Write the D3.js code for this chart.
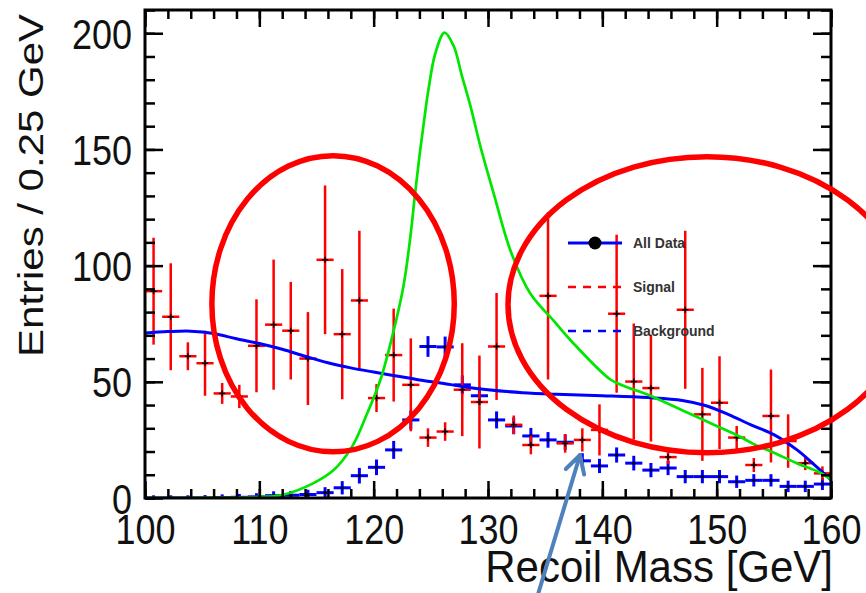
<!DOCTYPE html>
<html>
<head>
<meta charset="utf-8">
<script src="https://cdn.jsdelivr.net/npm/d3@7"></script>
<style>
  body { margin: 0; background: #fff; }
  svg { display: block; font-family: "Liberation Sans", Arial, Helvetica, sans-serif; }
</style>
</head>
<body>
<svg id="chart" width="866" height="593"></svg>
<script>
// bin centres, 1.5 GeV wide bins
const binCenters = [100.75, 102.25, 103.75, 105.25, 106.75, 108.25, 109.75, 111.25, 112.75, 114.25,
  115.75, 117.25, 118.75, 120.25, 121.75, 123.25, 124.75, 126.25, 127.75, 129.25,
  130.75, 132.25, 133.75, 135.25, 136.75, 138.25, 139.75, 141.25, 142.75, 144.25,
  145.75, 147.25, 148.75, 150.25, 151.75, 153.25, 154.75, 156.25, 157.75, 159.25];

// red points (with big error bars)
const dataCounts = [89, 78, 61, 58, 45, 43.7, 65.5, 74.6, 72, 60,
  102.5, 70.5, 85, 43, 61.5, 48.7, 26, 28.6, 46.6, 41.3,
  65.2, 31.5, 22.8, 87, 23.5, 25, 29.3, 79.3, 50.1, 47.3,
  17.6, 81, 36, 41, 26, 14.2, 35.3, 24.5, 15, 10.6];
const dataErrors = [23, 23, 6, 14, 4.5, 5, 20, 28, 21, 20,
  32, 28, 30, 6, 20, 20, 4, 4, 20, 20,
  23, 4, 4, 36, 4, 5, 11, 34, 25, 23,
  3, 34, 20, 20, 5, 3, 20, 11.5, 3, 3];

// blue points
const bkgCounts = [0, 0, 0, 0, 0.2, 0.3, 0.5, 1, 1.2, 1.5,
  2.3, 4.4, 9.6, 13.2, 20.7, 33.6, 65.2, 65, 48.7, 44,
  33.6, 31, 26.7, 25, 24, 16, 13.8, 18.5, 15, 12,
  12.9, 9.2, 9.2, 9.2, 7, 7.6, 7.6, 5, 5, 6];
const bkgErrors = [0.3, 0.3, 0.3, 0.4, 0.5, 0.6, 0.7, 1, 1, 1.2,
  1.5, 2, 2.5, 2.5, 3, 3.2, 3.6, 3.6, 3.2, 3,
  2.8, 2.7, 2.6, 2.5, 2.5, 2.4, 2.2, 2.4, 2.3, 2.2,
  2.2, 2, 2, 2, 1.8, 1.8, 1.8, 1.6, 1.6, 1.7];

// green signal curve
const signalMass = [100, 104, 108, 110, 112, 114.7, 116.5, 118.1, 119.4, 120.6,
  121.6, 122.6, 123.2, 123.6, 124.0, 124.4, 124.8, 125.4, 126.2,
  127.0, 127.7, 128.5, 129.3, 130.5, 132.0, 133.7, 135.7, 137.2, 140.7,
  142.0, 144.0, 146.0, 148.0, 150.0, 152.0, 153.2, 155.0, 157.0, 159.0, 160];
const signalCurve = [0, 0, 0.2, 0.5, 1.3, 6.3, 12, 22, 36, 51,
  69, 91, 112, 130, 147, 162, 176, 191.5, 200.3,
  194.5, 182, 168, 152, 131, 106, 88, 76.5, 68, 51,
  48, 44.4, 40, 35.5, 31, 26.5, 23.3, 19.5, 15, 11, 8];

// blue fit curve
const fitMass = [100, 102, 104, 106, 108, 110, 112, 114, 116, 118,
  120, 122, 124, 126, 128, 130, 133, 136, 140, 144,
  147, 149, 151, 153, 155, 157, 158.5, 160];
const fitCurve = [71, 71.6, 71.8, 70.8, 68.5, 66.5, 64, 61, 58.2, 56,
  54.2, 52.5, 50.8, 49.4, 47.8, 46.6, 45.3, 44.6, 44, 43.2,
  42, 39.8, 36, 31.5, 27.3, 20.8, 14.5, 7.8];

const xTickValues = [100, 110, 120, 130, 140, 150, 160];
const yTickValues = [0, 50, 100, 150, 200];
const legendLabels = ["All Data", "Signal", "Background"];
const xTitle = "Recoil Mass [GeV]";
const yTitle = "Entries / 0.25 GeV";

// annotations, in data units: [mass, entries, halfWidth GeV, halfHeight entries]
const circleNotes = [[116.45, 83.6, 10.6, 63.7], [149.15, 83.2, 17.4, 63.7]];
// arrow tail -> tip
const arrowNote = [[134.4, -41], [138.05, 18.5]];

const svg = d3.select("#chart");
const W = 866, H = 593;
const plotLeft = 145, plotRight = 831, plotTop = 10, plotBottom = 498;
const stretch = 1.2; // the picture is taller than wide

const x = d3.scaleLinear().domain([100, 160]).range([plotLeft, plotRight]);
const y = d3.scaleLinear().domain([0, 210]).range([plotBottom, plotTop]);

svg.append("rect").attr("width", W).attr("height", H).attr("fill", "#fff");

svg.append("clipPath").attr("id", "plot-clip")
  .append("rect")
  .attr("x", plotLeft).attr("y", plotTop)
  .attr("width", plotRight - plotLeft).attr("height", plotBottom - plotTop);

const plot = svg.append("g").attr("clip-path", "url(#plot-clip)");

const half = 0.75;
const rows = binCenters.map((m, i) => ({
  m, v: dataCounts[i], e: dataErrors[i], bv: bkgCounts[i], be: bkgErrors[i]
}));

// blue points
const bkg = plot.append("g").attr("stroke", "#0000ff").attr("stroke-width", 3);
bkg.selectAll("line.h").data(rows).join("line").attr("class", "h")
  .attr("x1", d => x(d.m - half)).attr("x2", d => x(d.m + half))
  .attr("y1", d => y(d.bv)).attr("y2", d => y(d.bv));
bkg.selectAll("line.v").data(rows).join("line").attr("class", "v")
  .attr("x1", d => x(d.m)).attr("x2", d => x(d.m))
  .attr("y1", d => y(d.bv - d.be) + 2).attr("y2", d => y(d.bv + d.be) - 2);
plot.selectAll("circle.bdot").data(rows).join("circle").attr("class", "bdot")
  .attr("cx", d => x(d.m)).attr("cy", d => y(d.bv)).attr("r", 1.6).attr("fill", "#000");

// red points
const dat = plot.append("g").attr("stroke", "#ff0000").attr("stroke-width", 2.5);
dat.selectAll("line.h").data(rows).join("line").attr("class", "h")
  .attr("x1", d => x(d.m - half)).attr("x2", d => x(d.m + half))
  .attr("y1", d => y(d.v)).attr("y2", d => y(d.v));
dat.selectAll("line.v").data(rows).join("line").attr("class", "v")
  .attr("x1", d => x(d.m)).attr("x2", d => x(d.m))
  .attr("y1", d => y(d.v - d.e)).attr("y2", d => y(d.v + d.e));
const marks = plot.append("g").attr("stroke", "#000").attr("stroke-width", 1.4);
marks.selectAll("line.h").data(rows).join("line").attr("class", "h")
  .attr("x1", d => x(d.m) - 3).attr("x2", d => x(d.m) + 3)
  .attr("y1", d => y(d.v)).attr("y2", d => y(d.v));
marks.selectAll("line.v").data(rows).join("line").attr("class", "v")
  .attr("x1", d => x(d.m)).attr("x2", d => x(d.m))
  .attr("y1", d => y(d.v) - 3).attr("y2", d => y(d.v) + 3);

// curves
const curve = d3.line()
  .x(d => x(d[0])).y(d => y(d[1]))
  .curve(d3.curveCatmullRom.alpha(0.5));

plot.append("path")
  .datum(fitMass.map((m, i) => [m, fitCurve[i]]))
  .attr("d", curve).attr("fill", "none")
  .attr("stroke", "#0000ff").attr("stroke-width", 3);

plot.append("path")
  .datum(signalMass.map((m, i) => [m, signalCurve[i]]))
  .attr("d", curve).attr("fill", "none")
  .attr("stroke", "#00e600").attr("stroke-width", 2.7);

// legend
const legendY = [243, 287, 331];
const lg = svg.append("g");
lg.append("line").attr("x1", 568).attr("x2", 622).attr("y1", legendY[0]).attr("y2", legendY[0])
  .attr("stroke", "#0000ff").attr("stroke-width", 3);
lg.append("circle").attr("cx", 595).attr("cy", legendY[0]).attr("r", 6.5).attr("fill", "#000");
lg.append("line").attr("x1", 568).attr("x2", 622).attr("y1", legendY[1]).attr("y2", legendY[1])
  .attr("stroke", "#ff0000").attr("stroke-width", 2.5).attr("stroke-dasharray", "8,7");
lg.append("line").attr("x1", 568).attr("x2", 622).attr("y1", legendY[2]).attr("y2", legendY[2])
  .attr("stroke", "#0000ff").attr("stroke-width", 2.5).attr("stroke-dasharray", "8,7");
lg.selectAll("text").data(legendLabels).join("text")
  .attr("x", 633).attr("y", (d, i) => legendY[i] + 5)
  .attr("font-size", "14px").attr("font-weight", "bold").attr("fill", "#333")
  .text(d => d);

// axes: ticks inward on all four sides
const xMinor = d3.range(100, 161, 2);
const yMinor = d3.range(0, 211, 10);

function tickAxis(axisFn, scale, vals, size, tr) {
  svg.append("g")
    .attr("transform", tr)
    .call(axisFn(scale).tickValues(vals).tickSize(size).tickFormat(""))
    .call(g => g.select(".domain").remove())
    .call(g => g.selectAll("line").attr("stroke", "#000").attr("stroke-width", 2.5));
}
tickAxis(d3.axisBottom, x, xMinor, -9, `translate(0,${plotBottom})`);
tickAxis(d3.axisBottom, x, xTickValues, -17, `translate(0,${plotBottom})`);
tickAxis(d3.axisTop, x, xMinor, -9, `translate(0,${plotTop})`);
tickAxis(d3.axisTop, x, xTickValues, -17, `translate(0,${plotTop})`);
tickAxis(d3.axisLeft, y, yMinor, -10, `translate(${plotLeft},0)`);
tickAxis(d3.axisLeft, y, yTickValues, -18, `translate(${plotLeft},0)`);
tickAxis(d3.axisRight, y, yMinor, -10, `translate(${plotRight},0)`);
tickAxis(d3.axisRight, y, yTickValues, -18, `translate(${plotRight},0)`);

// tick labels
svg.append("g")
  .attr("transform", `translate(0,${plotBottom})`)
  .call(d3.axisBottom(x).tickValues(xTickValues).tickSize(0).tickFormat(d3.format("d")))
  .call(g => g.select(".domain").remove())
  .call(g => g.selectAll("text")
    .attr("font-size", "36px").attr("fill", "#111")
    .attr("font-family", "'Liberation Sans', Arial, sans-serif")
    .attr("dy", null).attr("y", 46 / stretch)
    .attr("transform", `scale(1,${stretch})`));

svg.append("g")
  .attr("transform", `translate(${plotLeft},0)`)
  .call(d3.axisLeft(y).tickValues(yTickValues).tickSize(0).tickFormat(d3.format("d")))
  .call(g => g.select(".domain").remove())
  .call(g => g.selectAll(".tick").each(function (d) {
    d3.select(this).attr("transform", `translate(0,${y(d)}) scale(1,${stretch})`);
  }))
  .call(g => g.selectAll("text")
    .attr("font-size", "36px").attr("fill", "#111")
    .attr("font-family", "'Liberation Sans', Arial, sans-serif")
    .attr("x", -13).attr("dy", "0.36em"));

// frame
svg.append("rect")
  .attr("x", plotLeft).attr("y", plotTop)
  .attr("width", plotRight - plotLeft).attr("height", plotBottom - plotTop)
  .attr("fill", "none").attr("stroke", "#000").attr("stroke-width", 3);

// titles
svg.append("text")
  .attr("transform", `translate(${plotRight + 2},582) scale(1,1.07)`)
  .attr("text-anchor", "end")
  .attr("font-size", "42px").attr("fill", "#111")
  .text(xTitle);

svg.append("text")
  .attr("transform", `translate(43,14) scale(1,${stretch}) rotate(-90)`)
  .attr("text-anchor", "end")
  .attr("font-size", "35px").attr("fill", "#111")
  .text(yTitle);

// red circles drawn by hand on the plot
svg.selectAll("ellipse.note").data(circleNotes).join("ellipse")
  .attr("class", "note")
  .attr("cx", d => x(d[0])).attr("cy", d => y(d[1]))
  .attr("rx", d => x(d[0] + d[2]) - x(d[0]))
  .attr("ry", d => y(d[1] - d[3]) - y(d[1]))
  .attr("fill", "none").attr("stroke", "#ff0000").attr("stroke-width", 5.5);

// arrow
const tail = [x(arrowNote[0][0]), y(arrowNote[0][1])];
const tip = [x(arrowNote[1][0]), y(arrowNote[1][1])];
const ang = Math.atan2(tail[1] - tip[1], tail[0] - tip[0]);
const wing = 20, spread = 0.5;
const arrow = svg.append("g").attr("stroke", "#4f81bd").attr("stroke-width", 4)
  .attr("stroke-linecap", "round").attr("fill", "none");
arrow.append("line").attr("x1", tail[0]).attr("y1", tail[1]).attr("x2", tip[0]).attr("y2", tip[1]);
arrow.append("path").attr("d", d3.line()([
  [tip[0] + wing * Math.cos(ang - spread), tip[1] + wing * Math.sin(ang - spread)],
  tip,
  [tip[0] + wing * Math.cos(ang + spread), tip[1] + wing * Math.sin(ang + spread)]
])).attr("stroke-linejoin", "round");
</script>
</body>
</html>
